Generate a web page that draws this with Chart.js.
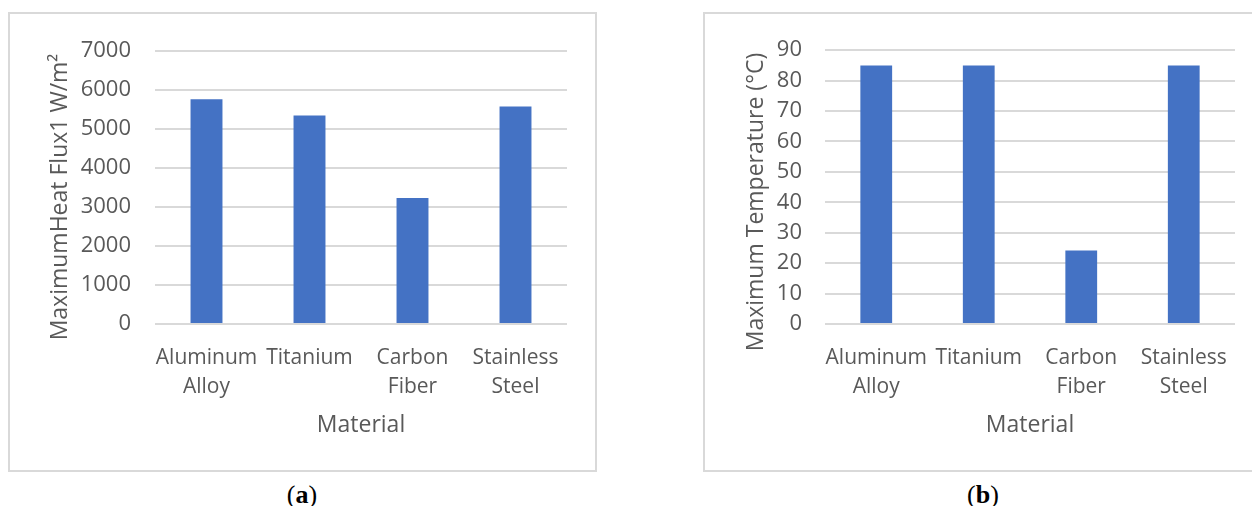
<!DOCTYPE html>
<html>
<head>
<meta charset="utf-8">
<script src="https://cdn.jsdelivr.net/npm/chart.js@4.4.1/dist/chart.umd.min.js"></script>
<style>
  html, body { margin: 0; padding: 0; background: #fff; overflow: hidden; }
  body { width: 1252px; height: 506px; position: relative; }
  .box { position: absolute; border: 2px solid #d9d9d9; box-sizing: border-box; }
  canvas { position: absolute; }
  .cap { position: absolute; top: 478px; width: 80px; line-height: 34px; text-align: center; font-family: 'Liberation Serif', serif; font-size: 26px; color: #000; }
</style>
</head>
<body>
<div class="box" style="left:8px; top:12px; width:589px; height:460px;"></div>
<div class="box" style="left:703px; top:12px; width:600px; height:460px;"></div>
<canvas id="chartA" width="585" height="456" style="left:10px; top:14px;"></canvas>
<canvas id="chartB" width="547" height="456" style="left:705px; top:14px;"></canvas>
<div class="cap" style="left:262px;">(<b>a</b>)</div>
<div class="cap" style="left:943px;">(<b>b</b>)</div>

<script>
// data
const materials = [['Aluminum', 'Alloy'], 'Titanium', ['Carbon', 'Fiber'], ['Stainless', 'Steel']];
const heatFlux = [5770, 5350, 3230, 5580];
const maxTemp = [85, 85, 24.2, 85];
const fluxTicks = [0, 1000, 2000, 3000, 4000, 5000, 6000, 7000];
const tempTicks = [0, 10, 20, 30, 40, 50, 60, 70, 80, 90];

const textColor = '#595959';
const barColor = '#4472C4';
const gridColor = '#d9d9d9';

Chart.defaults.font.family = "'Open Sans', sans-serif";
Chart.defaults.color = textColor;

// Excel puts the vertical title a bit lower than the plot centre, so draw it ourselves
const sideTitle = {
  id: 'sideTitle',
  afterDraw(chart, args, opts) {
    const ctx = chart.ctx;
    ctx.save();
    ctx.translate(opts.x, opts.y);
    ctx.rotate(-Math.PI / 2);
    ctx.font = "23px 'Open Sans', sans-serif";
    ctx.fillStyle = textColor;
    ctx.textAlign = 'center';
    ctx.textBaseline = 'middle';
    ctx.fillText(opts.text, 0, 0);
    ctx.restore();
  }
};

const makeChart = (id, values, ticks, yTitle, layout) => {
  const ctx = document.getElementById(id).getContext('2d');
  return new Chart(ctx, {
    type: 'bar',
    data: {
      labels: materials,
      datasets: [{
        data: values,
        backgroundColor: barColor,
        borderWidth: 0,
        barPercentage: 0.31,
        categoryPercentage: 1,
      }],
    },
    plugins: [sideTitle],
    options: {
      responsive: false,
      animation: false,
      devicePixelRatio: 1,
      layout: { padding: { left: 0, right: layout.right, top: 28, bottom: 0 } },
      plugins: {
        legend: { display: false },
        tooltip: { enabled: false },
        sideTitle: { text: yTitle, x: layout.titleX, y: layout.titleY },
      },
      scales: {
        x: {
          grid: { display: false },
          border: { display: false },
          ticks: {
            font: { size: 21, lineHeight: 1.38 },
            padding: 12,
            maxRotation: 0,
            autoSkip: false,
          },
          title: {
            display: true,
            text: 'Material',
            font: { size: 23 },
            padding: { top: 0, bottom: 31 },
          },
          afterFit: (scale) => { scale.height = 146; },
        },
        y: {
          min: ticks[0],
          max: ticks[ticks.length - 1],
          afterBuildTicks: (scale) => { scale.ticks = ticks.map((v) => ({ value: v })); },
          grid: { color: gridColor, lineWidth: 2, drawTicks: false },
          border: { display: false },
          ticks: {
            font: { size: 22 },
            padding: layout.tickPad,
            callback: (v) => String(v),
          },
          afterFit: (scale) => { scale.width = layout.left; },
        },
      },
    },
  });
};

makeChart('chartA', heatFlux, fluxTicks, 'MaximumHeat Flux1 W/m\u00B2',
  { left: 145, right: 28, tickPad: 24, titleX: 50, titleY: 183 });
makeChart('chartB', maxTemp, tempTicks, 'Maximum Temperature (\u00B0C)',
  { left: 120, right: 17, tickPad: 23, titleX: 51, titleY: 188 });
</script>
</body>
</html>
